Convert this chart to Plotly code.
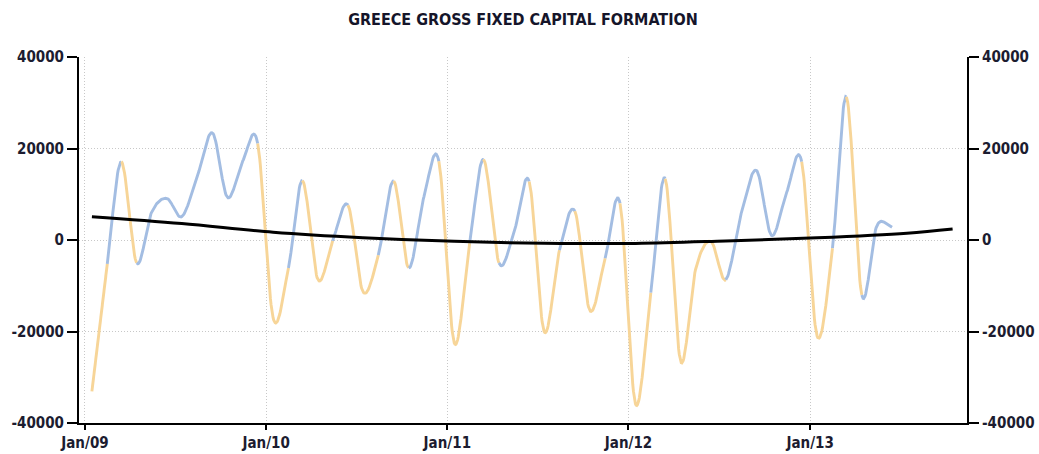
import numpy as np
import pandas as pd
import plotly.graph_objects as go

# ---------------- data ----------------
month_dates = pd.date_range("2009-01-01", periods=54, freq="MS") + pd.Timedelta(days=14)
values = [
    -33100, -5200, 17100, -5000, 6000, 9100, 5100, 13800, 23400, 9300, 17300, 21100,   # 2009
    -17000, -6100, 13000, -8600, -200, 7600, -11300, -3300, 12900, -6100, 9500, 17200,  # 2010
    -22500, -700, 17600, -5000, 1500, 12800, -20000, -2200, 6300, -15400, -4000, 8000,  # 2011
    -35800, -11500, 13400, -26500, -6500, -300, -8700, 5800, 15200, 1000, 10500, 17100, # 2012
    -21000, -1800, 31300, -12000, 3000, 2800,                                           # 2013
]
trend_dates = ["2009-01-15", "2009-07-15", "2010-01-15", "2010-07-15", "2011-01-15",
               "2011-07-15", "2012-01-15", "2012-07-15", "2013-01-15", "2013-07-15",
               "2013-10-15"]
trend_values = [5100, 3600, 1700, 500, -300, -700, -750, -200, 500, 1500, 2400]

y_tickvals = [-40000, -20000, 0, 20000, 40000]
y_ticktext = ["-40000", "-20000", "0", "20000", "40000"]
title_text = "GREECE GROSS FIXED CAPITAL FORMATION"

# ---------------- styles ----------------
BLUE = "#A3BDE2"
ORANGE = "#F7D598"
FONT = "DejaVu Sans Condensed, DejaVu Sans"

# ---------------- smooth rendering of the monthly series ----------------
t = (month_dates - pd.Timestamp("1970-01-01")).days.values.astype(float)
v = np.array(values, dtype=float)
n = len(v)
m = np.zeros(n)
for i in range(n):
    if i == 0:
        m[i] = (v[1] - v[0]) / (t[1] - t[0])
    elif i == n - 1:
        m[i] = (v[-1] - v[-2]) / (t[-1] - t[-2])
    else:
        m[i] = (v[i + 1] - v[i - 1]) / (t[i + 1] - t[i - 1])

def segment(i, steps=24):
    s = np.linspace(0, 1, steps)
    h = t[i + 1] - t[i]
    h00 = 2 * s**3 - 3 * s**2 + 1
    h10 = s**3 - 2 * s**2 + s
    h01 = -2 * s**3 + 3 * s**2
    h11 = s**3 - s**2
    yy = h00 * v[i] + h10 * h * m[i] + h01 * v[i + 1] + h11 * h * m[i + 1]
    xx = t[i] + s * h
    return xx, yy

# a segment is blue when it ends above zero, orange otherwise
seg_colors = [BLUE if v[i + 1] > 0 else ORANGE for i in range(n - 1)]

fig = go.Figure()
i = 0
while i < n - 1:
    j = i
    while j + 1 < n - 1 and seg_colors[j + 1] == seg_colors[i]:
        j += 1
    xs, ys = [], []
    for k in range(i, j + 1):
        xx, yy = segment(k)
        if k > i:
            xx, yy = xx[1:], yy[1:]
        xs.append(xx)
        ys.append(yy)
    xs = np.concatenate(xs)
    ys = np.concatenate(ys)
    fig.add_trace(go.Scatter(
        x=pd.to_datetime(xs, unit="D"), y=ys, mode="lines",
        line=dict(color=seg_colors[i], width=2.9),
        hoverinfo="skip", showlegend=False))
    i = j + 1

fig.add_trace(go.Scatter(
    x=pd.to_datetime(trend_dates), y=trend_values, mode="lines",
    line=dict(color="black", width=3, shape="spline"),
    yaxis="y2", showlegend=False, hoverinfo="skip"))

tickfont = dict(family=FONT, size=15, color="#1c1c30", weight="bold")
common_y = dict(range=[-40000, 40000], tickvals=y_tickvals, ticktext=y_ticktext,
                showline=True, linecolor="black", linewidth=2,
                ticks="outside", ticklen=10, tickwidth=2, tickcolor="black",
                tickfont=tickfont, zeroline=False, fixedrange=True, automargin=False)
grid = dict(showgrid=True, gridcolor="#c8c8c8", griddash="1px,2px", gridwidth=1)

fig.update_layout(
    width=1039, height=454,
    margin=dict(l=79, r=72, t=57, b=31, autoexpand=False),
    paper_bgcolor="white", plot_bgcolor="white",
    title=dict(text=title_text, x=0.5, xref="paper", y=1 - 19.5 / 454, yref="container",
               yanchor="middle", xanchor="center",
               font=dict(family=FONT, size=16, color="#15152a", weight="bold")),
    xaxis=dict(type="date", range=["2008-12-20", "2013-11-13"],
               tick0="2009-01-01", dtick="M12", tickformat="%b/%y",
               **grid,
               showline=True, linecolor="black", linewidth=2,
               ticks="outside", ticklen=5, tickwidth=2, tickcolor="black",
               tickfont=tickfont, zeroline=False, automargin=False, fixedrange=True),
    yaxis=dict(**common_y, **grid),
    yaxis2=dict(**common_y, overlaying="y", side="right", showgrid=False),
    showlegend=False,
    hovermode=False,
)

fig.write_html("out.html",
               config={"displayModeBar": False, "staticPlot": True},
               post_script="document.body.style.margin='0';document.body.style.overflow='hidden';")
